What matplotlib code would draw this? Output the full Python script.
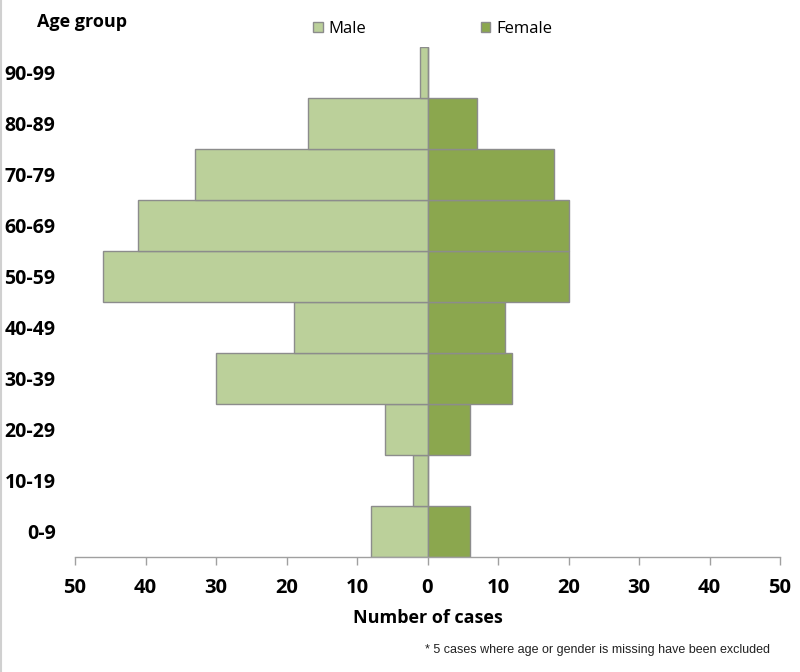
import matplotlib
matplotlib.use("Agg")
import matplotlib.pyplot as plt
from matplotlib.patches import Patch
from matplotlib.lines import Line2D

age_groups = ["0-9", "10-19", "20-29", "30-39", "40-49", "50-59", "60-69", "70-79", "80-89", "90-99"]
male = [8, 2, 6, 30, 19, 46, 41, 33, 17, 1]
female = [6, 0, 6, 12, 11, 20, 20, 18, 7, 0]
x_ticks = [-50, -40, -30, -20, -10, 0, 10, 20, 30, 40, 50]

male_color = "#BBD09A"
female_color = "#8BA74E"
edge = "#8C8C8C"
fam = ["Open Sans", "DejaVu Sans"]
fam_note = ["Liberation Sans", "DejaVu Sans"]

fig = plt.figure(figsize=(8, 6.72), dpi=100)
ax = fig.add_axes([0.09375, 0.1711, 0.88125, 0.759])

y = list(range(len(age_groups)))
ax.barh(y, [-m for m in male], height=1.0, color=male_color, edgecolor=edge, linewidth=1.0, label="Male")
ax.barh(y, female, height=1.0, color=female_color, edgecolor=edge, linewidth=1.0, label="Female")

ax.set_xlim(-50, 50)
ax.set_ylim(-0.5, 9.5)
ax.set_xticks(x_ticks)
ax.set_xticklabels([str(abs(t)) for t in x_ticks], fontsize=14.5, fontweight="bold", family=fam)
ax.set_yticks(y)
ax.set_yticklabels(age_groups, fontsize=14, fontweight="bold", family=fam)
ax.tick_params(axis="y", length=0, pad=14)
ax.tick_params(axis="x", direction="out", length=6, color="#A0A0A0", width=1, pad=9)
for s in ["top", "right", "left"]:
    ax.spines[s].set_visible(False)
ax.spines["bottom"].set_color("#A0A0A0")
ax.spines["bottom"].set_linewidth(1)

ax.set_xlabel("Number of cases", fontsize=13, fontweight="bold", family=fam, labelpad=8)

fig.text(0.046, 0.968, "Age group", fontsize=13, fontweight="bold", family=fam, ha="left", va="center")
fig.text(0.962, 0.033, "* 5 cases where age or gender is missing have been excluded",
         fontsize=9, family=fam_note, ha="right", va="center", color="#222222")

handles = [Patch(facecolor=male_color, edgecolor=edge), Patch(facecolor=female_color, edgecolor=edge)]
fig.legend(handles, ["Male", "Female"], loc="center", bbox_to_anchor=(0.541, 0.957), ncol=2,
           frameon=False, handlelength=0.55, handleheight=0.55, handletextpad=0.35,
           columnspacing=6.9, prop={"family": fam, "size": 12})

fig.add_artist(Line2D([0.001, 0.001], [0, 1], transform=fig.transFigure, color="#D0D0D0", linewidth=1.5))

fig.savefig("out.png", dpi=100)
